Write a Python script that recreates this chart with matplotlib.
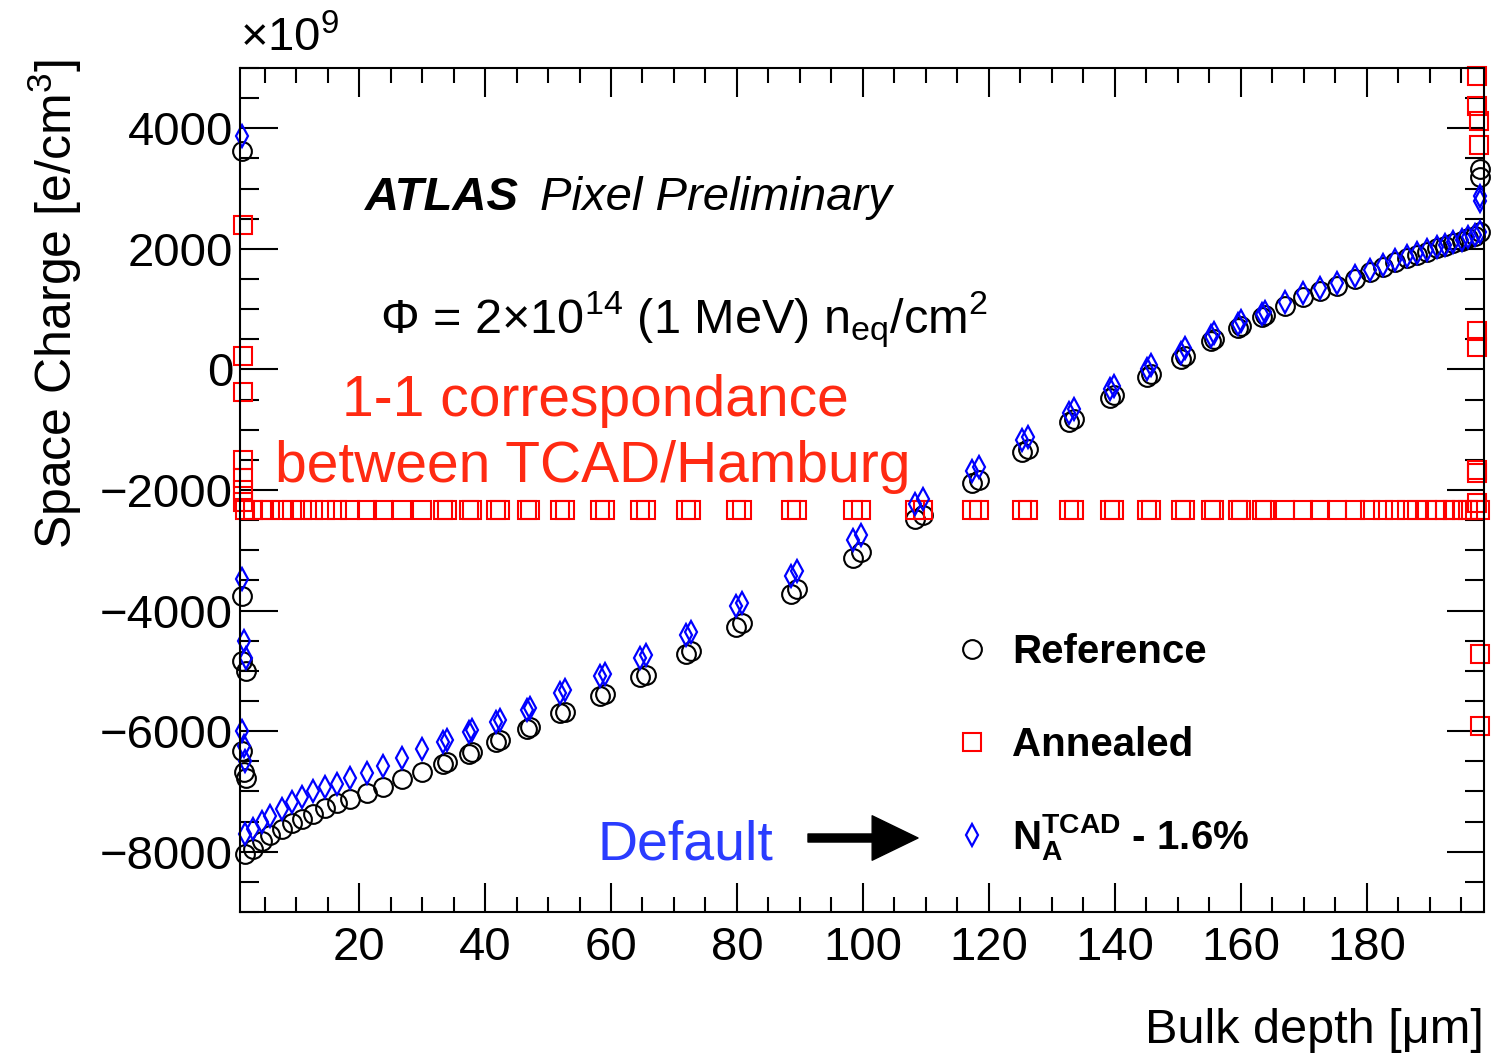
import matplotlib.pyplot as plt

plt.rcParams['font.family'] = ['Liberation Sans', 'DejaVu Sans']
plt.rcParams['mathtext.fontset'] = 'custom'
plt.rcParams['mathtext.rm'] = 'Liberation Sans'
plt.rcParams['mathtext.it'] = 'Liberation Sans:italic'
plt.rcParams['mathtext.bf'] = 'Liberation Sans:bold'

# bulk nodes of the mesh [um]
depth = [1.9, 3.2, 4.6, 5.9, 7.8, 9.4, 11.0, 12.7, 14.6, 16.5, 18.6, 21.3, 23.8, 26.8, 30.0,
         33.4, 33.9, 37.4, 37.9, 41.8, 42.3, 46.6, 47.2, 51.9, 52.7, 58.3, 59.0, 64.6, 65.6,
         71.9, 72.7, 79.8, 80.8, 88.6, 89.5, 98.4, 99.7, 108.3, 109.5, 117.3, 118.4, 125.2, 126.2,
         132.7, 133.5, 139.2, 139.8, 145.1, 145.7, 150.5, 151.1, 155.2, 155.7, 159.5, 160.0,
         163.3, 163.8, 167.0, 169.8, 172.5, 175.2, 178.1, 180.5, 182.5, 184.4, 186.3, 187.9,
         189.5, 191.1, 192.4, 193.7, 195.1, 196.0, 197.1, 197.9]

# space charge [1e9 e/cm3]
reference = [-8030, -7950, -7830, -7720, -7620, -7530, -7450, -7370, -7280, -7200, -7120, -7020, -6920, -6800, -6670,
             -6550, -6520, -6380, -6350, -6180, -6150, -5970, -5930, -5700, -5680, -5420, -5380, -5100, -5070,
             -4720, -4670, -4270, -4200, -3720, -3650, -3120, -3030, -2480, -2420, -1880, -1830, -1370, -1320,
             -880, -830, -470, -430, -120, -80, 180, 220, 470, 500, 680, 720,
             870, 900, 1050, 1200, 1300, 1380, 1500, 1620, 1700, 1780, 1850, 1900,
             1950, 2020, 2050, 2100, 2130, 2180, 2220, 2280]
tcad = [-7700, -7620, -7500, -7400, -7290, -7180, -7090, -7000, -6930, -6870, -6780, -6700, -6580, -6450, -6300,
        -6180, -6150, -6020, -5980, -5850, -5820, -5650, -5620, -5370, -5320, -5080, -5050, -4780, -4730,
        -4400, -4350, -3930, -3880, -3420, -3350, -2830, -2750, -2230, -2150, -1680, -1620, -1170, -1120,
        -720, -650, -330, -270, 0, 70, 280, 350, 550, 600, 750, 800,
        920, 950, 1120, 1270, 1350, 1430, 1550, 1650, 1730, 1820, 1880, 1930,
        1980, 2030, 2070, 2120, 2150, 2200, 2230, 2280]
annealed = [-2340, -2340, -2340, -2340, -2340, -2340, -2340, -2340, -2340, -2340, -2340, -2340, -2340, -2340, -2340,
            -2340, -2340, -2340, -2340, -2340, -2340, -2340, -2340, -2340, -2340, -2340, -2340, -2340, -2340,
            -2340, -2340, -2340, -2340, -2340, -2340, -2340, -2340, -2340, -2340, -2340, -2340, -2340, -2340,
            -2340, -2340, -2340, -2340, -2340, -2340, -2340, -2340, -2340, -2340, -2340, -2340,
            -2340, -2340, -2340, -2340, -2340, -2340, -2340, -2340, -2340, -2340, -2340, -2340,
            -2340, -2340, -2340, -2340, -2340, -2340, -2340, -2340]

# nodes sitting on the two surfaces
ref_edge_x = [1.4, 1.4, 1.4, 2.0, 1.4, 1.8, 2.0, 197.9, 197.9]
ref_edge_y = [3620, -3750, -4830, -5000, -6330, -6670, -6780, 3330, 3200]
tcad_edge_x = [1.4, 1.4, 1.8, 2.0, 1.4, 1.8, 1.9, 197.9, 197.9]
tcad_edge_y = [3880, -3470, -4500, -4780, -6000, -6250, -6500, 2880, 2800]
ann_edge_x = [1.5, 1.5, 1.5, 1.5, 1.5, 1.5, 1.5,
              197.5, 197.5, 197.8, 197.8, 197.5, 197.5, 197.5, 197.5, 197.5, 198.0, 198.0]
ann_edge_y = [2400, 220, -380, -1500, -1800, -2000, -2200,
              4870, 4370, 4120, 3720, 630, 370, -1670, -1720, -2220, -4720, -5920]

series_labels = ['Reference', 'Annealed', r'$\mathbf{N}_{\mathbf{A}}^{\mathbf{TCAD}}$ - 1.6%']


def ax_pos(px, py):
    # pixel position in the picture -> axes fraction
    return ((px - 240) / 1244, (912 - py) / 844)


fig = plt.figure(figsize=(15.04, 10.55), dpi=100)
ax = fig.add_axes([240 / 1504, 1 - 912 / 1055, 1244 / 1504, 844 / 1055])

styles = [dict(marker='o', ms=13.5, mew=1.5, mec='black'),
          dict(marker='s', ms=12.5, mew=1.5, mec='red'),
          dict(marker='d', ms=11, mew=1.6, mec='blue')]

ax.plot(ref_edge_x + depth, ref_edge_y + reference, ls='none', mfc='none', clip_on=False, **styles[0])
ax.plot(ann_edge_x + depth, ann_edge_y + annealed, ls='none', mfc='none', clip_on=False, **styles[1])
ax.plot(tcad_edge_x + depth, tcad_edge_y + tcad, ls='none', mfc='none', clip_on=False, **styles[2])

ax.set_xlim(1.1, 198.6)
ax.set_ylim(-9000, 5000)
ax.set_xticks(range(20, 181, 20))
ax.set_xticks(range(5, 199, 5), minor=True)
ax.set_yticks(range(-8000, 4001, 2000))
ax.set_yticks(range(-9000, 5001, 500), minor=True)
ax.tick_params(which='both', direction='in', top=True, right=True, width=1.5, labelsize=34)
ax.tick_params(axis='x', which='major', length=21, pad=10)
ax.tick_params(axis='x', which='minor', length=11)
ax.tick_params(axis='y', which='major', length=27, pad=5)
ax.tick_params(axis='y', which='minor', length=14)
for s in ax.spines.values():
    s.set_linewidth(1.5)

ax.text(0, 1.008, r'×10$^{9}$', transform=ax.transAxes, fontsize=34, ha='left', va='bottom')
fig.text(55 / 1504, 1 - 60 / 1055, r'Space Charge [e/cm$^{3}$]', rotation=90,
         fontsize=36, ha='center', va='top')
fig.text(1484 / 1504, 1 - 1008 / 1055, 'Bulk depth [μm]', fontsize=35, ha='right', va='top')

ax.text(*ax_pos(365, 210), 'ATLAS', transform=ax.transAxes, fontsize=34,
        fontweight='bold', style='italic', va='baseline')
ax.text(*ax_pos(540, 210), 'Pixel Preliminary', transform=ax.transAxes, fontsize=34,
        style='italic', va='baseline')
ax.text(*ax_pos(380, 333), r'$\Phi$ = 2×10$^{14}$ (1 MeV) n$_{\rm eq}$/cm$^{2}$',
        transform=ax.transAxes, fontsize=35, va='baseline')
ax.text(*ax_pos(595, 416), '1-1 correspondance', transform=ax.transAxes, fontsize=41,
        color='#ff2a12', ha='center', va='baseline')
ax.text(*ax_pos(593, 482), 'between TCAD/Hamburg', transform=ax.transAxes, fontsize=41,
        color='#ff2a12', ha='center', va='baseline')
ax.text(*ax_pos(598, 860), 'Default', transform=ax.transAxes, fontsize=40,
        color='#2a3cff', va='baseline')
ax.annotate('', xy=ax_pos(918, 838), xytext=ax_pos(808, 838),
            xycoords='axes fraction', textcoords='axes fraction',
            arrowprops=dict(arrowstyle='simple,head_length=1.65,head_width=1.6,tail_width=0.29',
                            color='black', shrinkA=0, shrinkB=0, mutation_scale=20))

# legend, ROOT style: key + bold label, rows 93 px apart
for i, (lab, st) in enumerate(zip(series_labels, styles)):
    row_y = 649 + 93 * i
    ax.plot(*ax_pos(972, row_y), transform=ax.transAxes, ls='none', mfc='none',
            clip_on=False, **st)
    ax.text(*ax_pos(1012, row_y + 14), lab, transform=ax.transAxes, fontsize=29,
            fontweight='bold', va='baseline')

fig.savefig('out.png', dpi=100)
